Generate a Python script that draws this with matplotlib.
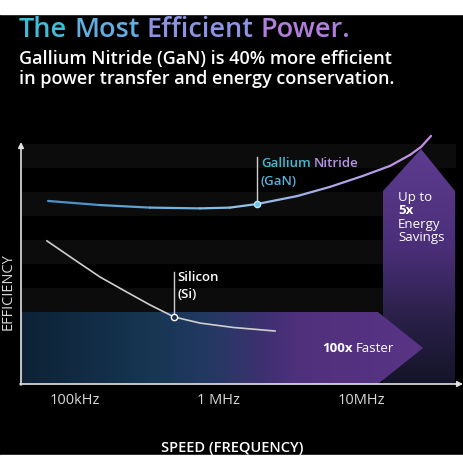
import numpy as np
import matplotlib
matplotlib.use("Agg")
import matplotlib.pyplot as plt
from matplotlib.patches import Polygon, Rectangle
from matplotlib.collections import LineCollection
from matplotlib.colors import LinearSegmentedColormap, to_rgb
from matplotlib.ticker import NullLocator

# ---------------- data ----------------
tick_freqs = [0.1, 1, 10]                      # MHz
tick_labels = ["100kHz", "1 MHz", "10MHz"]

gan_freq = [0.0654, 0.1506, 0.3358, 0.7492, 1.212, 1.870, 3.553, 6.032,
            10.24, 15.80, 21.78, 25.98, 30.50]
gan_eff = [71.5, 69.9, 68.9, 68.6, 68.9, 70.3, 73.4, 77.0,
           81.3, 85.2, 89.5, 92.6, 96.9]

si_freq = [0.0643, 0.1008, 0.1506, 0.2248, 0.3358, 0.4935, 0.7492, 1.272, 2.496]
si_eff = [55.9, 48.4, 41.8, 36.3, 30.9, 26.2, 23.8, 22.1, 20.7]

gan_mark = (1.870, 70.3)
si_mark = (0.4935, 26.2)

title = ["The", "Most", "Efficient", "Power."]
title_colors = ["#3fbcd6", "#62aee0", "#8c93e2", "#b07fdc"]
subtitle = ["Gallium Nitride (GaN) is 40% more efficient",
            "in power transfer and energy conservation."]

FONT = "Open Sans"
W = 464.0

def fx(p):
    return p / W

def fy(p):
    return 1 - p / W

fig = plt.figure(figsize=(4.64, 4.64), dpi=100, facecolor="white")

# ---------------- background layer (pixel coords) ----------------
bg = fig.add_axes([0, 0, 1, 1], zorder=0)
bg.set_xlim(0, W)
bg.set_ylim(W, 0)
bg.axis("off")
bg.add_patch(Rectangle((0, 15), W, 441, color="black", zorder=0))

# stripes
for y0 in [145, 193, 241, 289]:
    bg.add_patch(Rectangle((22, y0), 434, 24, color="#0c0c0d", lw=0, zorder=1))

def gradient_poly(verts, stops, horizontal, zorder):
    poly = Polygon(verts, closed=True, facecolor="none", edgecolor="none", zorder=zorder)
    bg.add_patch(poly)
    xs = [v[0] for v in verts]
    ys = [v[1] for v in verts]
    x0, x1, y0, y1 = min(xs), max(xs), min(ys), max(ys)
    n = 256
    pos = np.array([s[0] for s in stops])
    cols = np.array([to_rgb(s[1]) for s in stops])
    t = np.linspace(pos[0], pos[-1], n)
    rgb = np.stack([np.interp(t, pos, cols[:, k]) for k in range(3)], axis=-1)
    img = rgb[np.newaxis, :, :] if horizontal else rgb[:, np.newaxis, :]
    im = bg.imshow(img, extent=(x0, x1, y1, y0), origin="upper", aspect="auto",
                   zorder=zorder, interpolation="bilinear")
    im.set_clip_path(poly)

# vertical arrow (energy savings)
gradient_poly([(383, 385), (383, 192), (421, 150), (455, 192), (455, 385)],
              [(150, "#5e3c90"), (250, "#4a2e78"), (320, "#2a2048"), (385, "#131428")],
              horizontal=False, zorder=2)
# horizontal arrow (faster)
gradient_poly([(21, 313), (378, 313), (423, 349), (378, 385), (21, 385)],
              [(21, "#0d2236"), (150, "#163652"), (215, "#253964"), (260, "#3c3170"),
               (300, "#50307c"), (423, "#5a3486")],
              horizontal=True, zorder=3)

bg.set_xlim(0, W)
bg.set_ylim(W, 0)
bg.add_patch(Rectangle((0, 0), W, 15, color="white", zorder=5))
bg.add_patch(Rectangle((0, 456), W, 8, color="white", zorder=5))

# axis arrows
arrow_kw = dict(arrowstyle="-|>", color="#e2e2e2", lw=1.2, mutation_scale=8,
                shrinkA=0, shrinkB=0)
bg.annotate("", xy=(21, 143), xytext=(21, 386), arrowprops=arrow_kw, zorder=6)
bg.annotate("", xy=(463, 385), xytext=(20, 385), arrowprops=arrow_kw, zorder=6)

# ---------------- main data axes ----------------
ax = fig.add_axes([21 / W, (W - 385) / W, 441 / W, 256 / W], zorder=1)
ax.patch.set_alpha(0)
ax.set_xscale("log")
ax.set_xlim(0.04239, 50.14)
ax.set_ylim(0, 100)
for s in ax.spines.values():
    s.set_visible(False)
ax.set_yticks([])
ax.set_xticks(tick_freqs)
ax.set_xticklabels(tick_labels, fontfamily=FONT)
ax.xaxis.set_minor_locator(NullLocator())
ax.tick_params(axis="x", length=0, pad=6, colors="#d8d8d8", labelsize=10.5)

ax.set_xlabel("SPEED (FREQUENCY)", fontfamily=FONT, fontsize=10.5, color="white",
              fontweight="semibold", va="center")
ax.xaxis.set_label_coords((232 - 21) / 441, (385 - 448) / 256)
ax.set_ylabel("EFFICIENCY", fontfamily=FONT, fontsize=10.5, color="#d8d8d8",
              va="center")
ax.yaxis.set_label_coords((8 - 21) / 441, (385 - 292) / 256)

# GaN gradient line
lx = np.log10(gan_freq)
pts = np.column_stack([gan_freq, gan_eff]).reshape(-1, 1, 2)
segs = np.concatenate([pts[:-1], pts[1:]], axis=1)
cmap = LinearSegmentedColormap.from_list("gan", ["#3f8cc4", "#8ec6ea", "#c68be6"])
mid = (lx[:-1] + lx[1:]) / 2
lc = LineCollection(segs, colors=cmap((mid - lx.min()) / (lx.max() - lx.min())),
                    linewidths=1.6, capstyle="round", joinstyle="round", zorder=4)
ax.add_collection(lc)

# Silicon line
ax.plot(si_freq, si_eff, color="#cfcfcf", lw=1.2, solid_joinstyle="round", zorder=4)

# leader lines + markers
ax.plot([gan_mark[0]] * 2, [gan_mark[1], 88.7], color="#cfcfcf", lw=1.0, zorder=4)
ax.plot([gan_mark[0]], [gan_mark[1]], "o", ms=4.5, mfc="#6fc3e0", mec="#b6e4f4",
        mew=1.0, zorder=5)
ax.plot([si_mark[0]] * 2, [si_mark[1], 43.75], color="#cfcfcf", lw=1.0, zorder=4)
ax.plot([si_mark[0]], [si_mark[1]], "o", ms=4.5, mfc="#1b2f48", mec="white",
        mew=1.0, zorder=5)

# ---------------- texts ----------------
renderer = fig.canvas.get_renderer()

def text_width(s, **kw):
    t = fig.text(0, 0, s, **kw)
    w = t.get_window_extent(renderer).width
    t.remove()
    return w

def chain(pieces, x, y, va="baseline", **kw):
    space = text_width("M M", **kw) - text_width("MM", **kw)
    for s, col, extra in pieces:
        kk = dict(kw)
        kk.update(extra)
        t = fig.text(fx(x), fy(y), s, color=col, ha="left", va=va, **kk)
        x = t.get_window_extent(renderer).x1 + space
    return x

chain([(w, c, {}) for w, c in zip(title, title_colors)], 19, 37,
      fontfamily=FONT, fontsize=19.5, fontweight="semibold")

for i, line in enumerate(subtitle):
    fig.text(fx(19), fy(64 + 20 * i), line, color="white", ha="left", va="baseline",
             fontfamily=FONT, fontsize=13, fontweight="semibold")

lab_kw = dict(fontfamily=FONT, fontsize=9.5, fontweight="semibold")
chain([("Gallium", "#48b6cc", {}), ("Nitride", "#b592e2", {})], 261, 167, **lab_kw)
fig.text(fx(261), fy(185), "(GaN)", color="#58b2d8", ha="left", va="baseline", **lab_kw)
fig.text(fx(177), fy(281), "Silicon", color="white", ha="left", va="baseline", **lab_kw)
fig.text(fx(177), fy(298), "(Si)", color="white", ha="left", va="baseline", **lab_kw)

box_kw = dict(fontfamily=FONT, fontsize=9.5, color="white", ha="left", va="center")
chain([("100x", "white", {"fontweight": "bold"}), ("Faster", "white", {})], 322, 349,
      va="center", fontfamily=FONT, fontsize=9.5)

fig.text(fx(398), fy(198), "Up to", **box_kw)
fig.text(fx(398), fy(211), "5x", fontweight="bold", **box_kw)
fig.text(fx(398), fy(225), "Energy", **box_kw)
fig.text(fx(398), fy(238), "Savings", **box_kw)

fig.savefig("out.png", dpi=100, facecolor="white")
